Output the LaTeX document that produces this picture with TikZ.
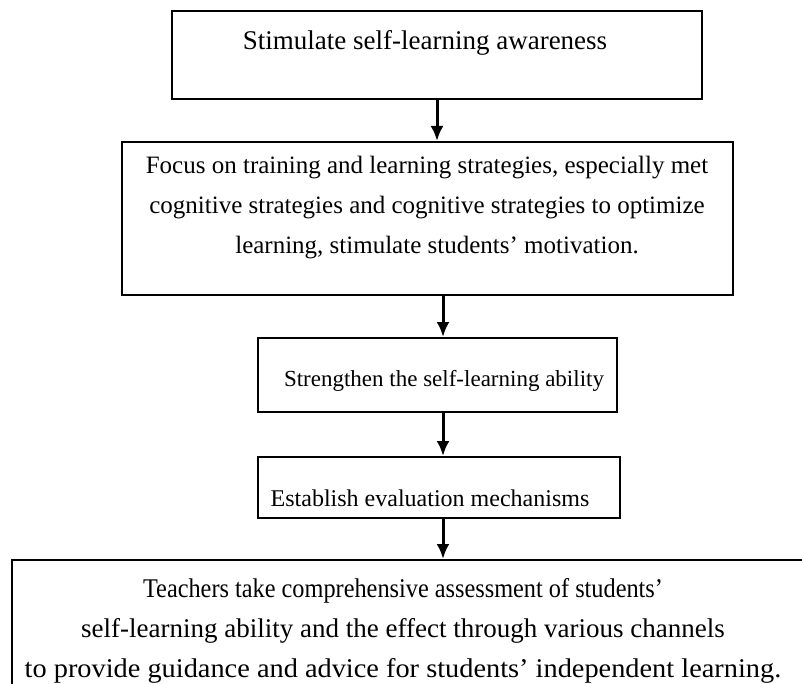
\documentclass[tikz,border=0pt]{standalone}
\usepackage{fontspec}
\usepackage{graphicx}
\setmainfont{Liberation Serif}
\usetikzlibrary{arrows.meta}

% stretch one line of text sideways
\newcommand{\sqline}[2]{\scalebox{#1}[1]{#2}}

\begin{document}
\begin{tikzpicture}[
	x=1pt, y=-1pt,
	box/.style={draw, line width=2pt, inner sep=0pt},
	txt/.style={align=center, inner sep=0pt, font=\fontsize{27}{40}\selectfont},
	flow/.style={line width=3pt, -{Latex[length=15pt,width=13pt]}}
]
\useasboundingbox (0,0) rectangle (802,684);

%% Draw boxes
\node[box, minimum width=530pt, minimum height=88pt] (stim) at (437,55) {};
\node[box, minimum width=611pt, minimum height=153pt] (focus) at (427.5,218.5) {};
\node[box, minimum width=359pt, minimum height=74pt] (strong) at (437.5,375) {};
\node[box, minimum width=362pt, minimum height=61pt] (eval) at (439,487.5) {};
\node[box, minimum width=803pt, minimum height=150pt] (teach) at (413.5,635) {};

%% Texts
\node[txt] (stimtext) at (425,43) {Stimulate self-learning awareness};
\node[txt, font=\fontsize{25}{40}\selectfont] (focustext) at (427,208) {Focus on training and learning strategies, especially met\\
	cognitive strategies and cognitive strategies to optimize\\
	\hspace*{20pt}learning, stimulate students' motivation.};
\node[txt, font=\fontsize{23}{40}\selectfont] (strongtext) at (444,381) {Strengthen the self-learning ability};
\node[txt, font=\fontsize{24}{40}\selectfont] (evaltext) at (430,498) {Establish evaluation mechanisms};
\node[txt] (teachtext) at (403,631) {\sqline{0.9}{Teachers take comprehensive assessment of students'}\\
	self-learning ability and the effect through various channels\\
	\sqline{1.05}{to provide guidance and advice for students' independent learning.}};

%% Draw edges
\coordinate (axis) at (443,0);
\draw[flow] (stim.south) -- (stim.south |- focus.north);
\draw[flow] (focus.south -| axis) -- (strong.north -| axis);
\draw[flow] (strong.south -| axis) -- (eval.north -| axis);
\draw[flow] (eval.south -| axis) -- (teach.north -| axis);

\end{tikzpicture}
\end{document}
